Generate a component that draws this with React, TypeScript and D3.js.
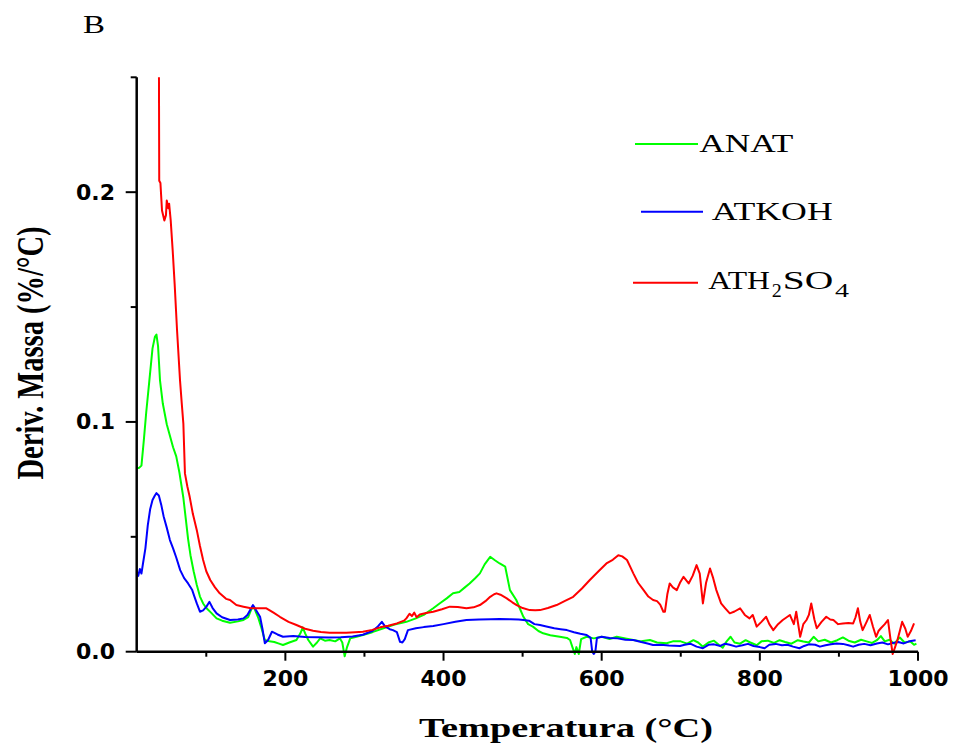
import React from "react";
import * as d3 from "d3";

// ---- data (temperature °C, deriv. mass %/°C) ----
const anatT = [12,15,18,21,24,28,32,35,37,39,41.5,45,50,54,58,62,66,71,74,77,80,84,88,92,96,100,106,113,120,130,140,147,153,157,160,163,166,170,174,180,186,192,197,205,214,219,222,225,229,235,240,244,250,256,263,269,272,275,278,282,290,298,310,324,338,353,365,375,387,395,404,412,420,427,433,440,446,452,459,465,471,478,484,492,501,507,513,520,526,535,547,556,560,563,566,568,571,574,581,590,600,610,619,630,640,650,661,670,682,690,700,708,716,722,728,735,742,748,753,758,763,768,775,782,788,796,802,810,818,825,832,840,848,855,862,868,874,882,890,898,905,912,920,928,935,942,948,953,958,964,970,977,983,990,995,998];
const anatV = [.080,.080,.081,.092,.104,.118,.132,.137,.138,.133,.118,.108,.099,.094,.089,.085,.078,.067,.058,.049,.042,.035,.029,.024,.021,.019,.017,.0145,.0135,.0126,.0132,.0138,.015,.0185,.0196,.017,.0145,.010,.0051,.0045,.0042,.0035,.0029,.004,.0051,.008,.0106,.008,.0051,.0022,.004,.0058,.0048,.0051,.0045,.0058,.004,-.002,.002,.0058,.0065,.0073,.0085,.0102,.0118,.013,.0145,.016,.0189,.021,.0232,.0254,.026,.028,.0297,.032,.0341,.038,.0413,.0398,.0384,.037,.0268,.0225,.0152,.012,.0109,.009,.008,.0072,.0065,.006,.0051,.002,-.001,.002,-.001,.0055,.0065,.0058,.0065,.0055,.0065,.0058,.0051,.0045,.0051,.004,.0037,.0045,.0045,.0035,.005,.004,.0022,.004,.0048,.003,.0017,.0045,.0065,.004,.0035,.005,.004,.0028,.0045,.0048,.0038,.005,.0042,.0035,.005,.0044,.004,.0065,.0045,.0052,.004,.005,.0062,.0048,.004,.0052,.0045,.0038,.005,.0068,.0045,.0052,.0035,.0062,.004,.0045,.003,.0035];

const atkohT = [12,14,16,18,20,23,26,29,32,35,37,40,43,46,50,54,58,62,67,72,77,82,85,88,92,96,100,104,108,113,120,130,140,147,152,156,159,163,168,171,174,178,183,190,197,210,225,240,255,270,285,298,310,317,322,326,332,336,341,345,348,351,355,365,375,387,400,415,429,445,460,471,485,495,501,508,515,522,530,540,548,556,565,573,581,586,588,590,592,594,600,610,620,630,640,650,658,665,675,685,699,705,712,720,728,735,742,750,756,762,770,778,785,792,800,806,812,820,828,835,842,850,856,862,870,876,883,890,897,905,912,918,925,932,940,948,955,962,968,975,982,988,993,997];
const atkohV = [.035,.033,.036,.034,.0385,.045,.055,.062,.066,.068,.069,.068,.064,.059,.054,.0486,.045,.041,.0355,.032,.0297,.027,.024,.021,.0174,.018,.0195,.0217,.019,.0167,.015,.0138,.014,.0145,.016,.0185,.0203,.018,.0152,.010,.0037,.005,.0087,.0075,.0065,.0068,.0064,.0063,.0062,.0063,.0066,.0074,.009,.011,.013,.011,.0098,.0094,.0085,.0043,.004,.0055,.0094,.0102,.0107,.0112,.012,.013,.0138,.014,.0141,.0142,.0141,.014,.0138,.0135,.012,.0116,.011,.0102,.0098,.0094,.0085,.0078,.0073,.006,.0,-.001,.0,.006,.0065,.006,.0058,.0052,.0051,.0042,.0036,.0029,.003,.0027,.0025,.003,.0035,.0022,.0015,.003,.0032,.0025,.0035,.003,.0022,.0028,.0034,.0025,.002,.0015,.003,.0034,.0028,.003,.0022,.0015,.0025,.0032,.003,.0022,.0028,.0032,.0036,.0034,.0028,.0022,.003,.0034,.0028,.0036,.004,.0032,.0038,.0042,.0036,.0044,.0048,.005];

const ath2so4T = [40,40.5,42,44,47,49,50,52,53,55,57.5,60,63,66.8,69,71,73,76,79,83,88,92,96,100,105,111,117,125,130,138,147,155,164,170,176,185,193,204,214,225,235,245,256,266,277,288,298,310,320,330,341,350,353,357,360,363,366,370,378,387,398,408,418,429,438,446,453,459,464,467,472,480,487,492.5,500,509,516,522,532,543,553,564,575,585,596,606,614,621,626,632,636,640,646,653,659,665,670,674,678,680,683,686,690,695,699,703.5,707,710,715,720,724,728,732,737,741,745,751,756,762,768,775,781,787,791,796,802,808,812,817,823,829,834,838,843,846,851,855,859,862,865,869,872,878,884,889,893,899,905,912,918,921,924,927,930,935,939,943,947,950,953,958,962,965,968,971,974,977,980,984,987,991,995];
const ath2so4V = [.27,.205,.204,.192,.1877,.19,.1964,.193,.195,.1877,.1747,.16,.14,.118,.108,.0993,.0776,.072,.0674,.06,.0529,.046,.0399,.035,.0312,.028,.0254,.023,.0225,.0203,.0196,.019,.0189,.0189,.0189,.017,.0152,.013,.0116,.010,.0091,.0086,.0083,.0082,.0083,.0085,.0087,.0095,.0106,.0113,.0123,.0135,.0145,.0165,.0155,.017,.015,.0162,.0168,.0174,.0185,.0196,.0195,.0189,.0193,.0203,.022,.0239,.025,.0254,.0248,.0232,.0215,.0203,.019,.0181,.018,.0181,.019,.0203,.022,.0239,.0275,.0312,.035,.0384,.040,.042,.0415,.0399,.037,.0341,.030,.0268,.024,.0225,.022,.0205,.0174,.0174,.025,.0297,.028,.0268,.030,.0326,.031,.0297,.033,.0377,.034,.021,.030,.0362,.032,.0268,.021,.019,.0167,.0175,.0189,.016,.0145,.016,.0109,.013,.0152,.012,.0094,.012,.0138,.015,.016,.012,.0174,.0065,.012,.0138,.016,.021,.014,.0102,.013,.0152,.014,.0138,.012,.0123,.0125,.0123,.015,.0189,.013,.0094,.013,.016,.011,.0065,.009,.0102,.012,.0138,.006,-.001,.002,.0051,.009,.013,.010,.0065,.009,.0123];

const seriesNames = ["ANAT", "ATKOH", "ATH2SO4"];
const seriesColors = ["#00ff00", "#0000ff", "#ff0000"];
const xTickValues = [100, 200, 300, 400, 500, 600, 700, 800, 900, 1000];
const xLabeled = [200, 400, 600, 800, 1000];
const yTickValues = [0, 0.05, 0.1, 0.15, 0.2, 0.25];
const yLabeled = [0, 0.1, 0.2];

const W = 956, H = 745;
const L = 136.7, R = 918, T = 77.3, B = 651.7;

export default function App() {
  const x = d3.scaleLinear().domain([12, 1000]).range([L, R]);
  const y = d3.scaleLinear().domain([0, 0.25]).range([B, T]);
  const line = d3.line<[number, number]>().x(d => x(d[0])).y(d => y(d[1]));
  const zip = (a: number[], b: number[]) => a.map((t, i) => [t, b[i]] as [number, number]);
  const series = [zip(anatT, anatV), zip(atkohT, atkohV), zip(ath2so4T, ath2so4V)];
  const fmtY = d3.format(".1f");

  return (
    <svg width={W} height={H} style={{ position: "absolute", left: 0, top: 0, background: "#fff" }}>
      <defs>
        <clipPath id="plotclip">
          <rect x={L} y={T} width={R - L + 2} height={B - T + 10} />
        </clipPath>
      </defs>
      <text x={83} y={33.3} fontFamily="Liberation Serif" fontSize={25} textLength={22} lengthAdjust="spacingAndGlyphs">B</text>

      {/* data lines */}
      <g clipPath="url(#plotclip)">
        {series.map((s, i) => (
          <path key={i} d={line(s) || ""} fill="none" stroke={seriesColors[i]} strokeWidth={2} strokeLinejoin="round" />
        ))}
      </g>

      {/* axes */}
      <line x1={L} x2={L} y1={T} y2={B} stroke="#000" strokeWidth={2.5} />
      <line x1={L} x2={R} y1={B} y2={B} stroke="#000" strokeWidth={2.5} />
      {yTickValues.map(v => {
        const major = yLabeled.some(m => Math.abs(m - v) < 1e-9);
        return (
          <g key={"y" + v}>
            <line x1={L - (major ? 11 : 6)} x2={L} y1={y(v)} y2={y(v)} stroke="#000" strokeWidth={2} />
            {major && (
              <text x={115} y={y(v) + 7.5} textAnchor="end" fontFamily="DejaVu Sans" fontWeight="bold" fontSize={22}>{fmtY(v)}</text>
            )}
          </g>
        );
      })}
      {xTickValues.map(v => {
        const major = xLabeled.includes(v);
        return (
          <g key={"x" + v}>
            <line x1={x(v)} x2={x(v)} y1={B} y2={B + (major ? 9 : 5)} stroke="#000" strokeWidth={2} />
            {major && (
              <text x={x(v)} y={686} textAnchor="middle" fontFamily="DejaVu Sans" fontWeight="bold" fontSize={22}>{v}</text>
            )}
          </g>
        );
      })}

      {/* axis titles */}
      <text x={566} y={737} textAnchor="middle" fontFamily="Liberation Serif" fontWeight="bold" fontSize={28} textLength={294} lengthAdjust="spacingAndGlyphs">Temperatura (°C)</text>
      <text transform="translate(43,353) rotate(-90)" textAnchor="middle" fontFamily="Liberation Serif" fontWeight="bold" fontSize={38} textLength={253} lengthAdjust="spacingAndGlyphs">Deriv. Massa (%/°C)</text>

      {/* legend */}
      <line x1={635} x2={698} y1={144} y2={144} stroke={seriesColors[0]} strokeWidth={2} />
      <text x={699.3} y={152.3} fontFamily="Liberation Serif" fontSize={26} textLength={94} lengthAdjust="spacingAndGlyphs">{seriesNames[0]}</text>
      <line x1={641} x2={703} y1={211.7} y2={211.7} stroke={seriesColors[1]} strokeWidth={2} />
      <text x={711.7} y={220} fontFamily="Liberation Serif" fontSize={26} textLength={121} lengthAdjust="spacingAndGlyphs">{seriesNames[1]}</text>
      <line x1={633} x2={698} y1={282.7} y2={282.7} stroke={seriesColors[2]} strokeWidth={2} />
      <text y={289.3} fontFamily="Liberation Serif" fontSize={26}>
        <tspan x={708.3} textLength={61.7} lengthAdjust="spacingAndGlyphs">ATH</tspan>
        <tspan x={771.7} y={296.7} fontSize={18} textLength={10} lengthAdjust="spacingAndGlyphs">2</tspan>
        <tspan x={782.7} y={289.3} textLength={50.6} lengthAdjust="spacingAndGlyphs">SO</tspan>
        <tspan x={835} y={296.7} fontSize={18} textLength={14} lengthAdjust="spacingAndGlyphs">4</tspan>
      </text>
    </svg>
  );
}
